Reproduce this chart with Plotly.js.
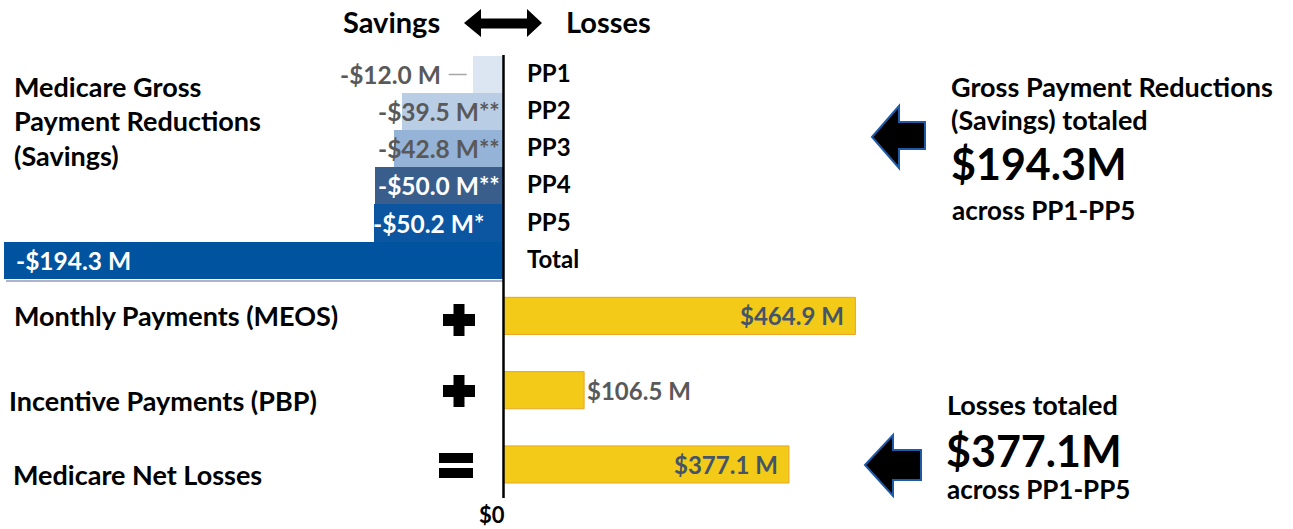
<!DOCTYPE html>
<html>
<head>
<meta charset="utf-8">
<script src="https://cdn.plot.ly/plotly-3.0.1.min.js"></script>
<style>html,body{margin:0;padding:0;background:#fff;}#chart{width:1293px;height:529px;}</style>
</head>
<body>
<div id="chart"></div>
<script>
// ---------- data ----------
const savingsCats   = ['PP1', 'PP2', 'PP3', 'PP4', 'PP5', 'Total'];
const savingsVals   = [-12.0, -39.5, -42.8, -50.0, -50.2, -194.3];
const savingsMarks  = ['', '**', '**', '**', '*', ''];
const lossCats      = ['Monthly Payments (MEOS)', 'Incentive Payments (PBP)', 'Medicare Net Losses'];
const lossVals      = [464.9, 106.5, 377.1];
const lossOps       = ['+', '+', '='];
const savingsTotal  = 194.3;
const lossTotal     = 377.1;

// ---------- styles / geometry ----------
const W = 1293, H = 529;
const FONT = 'Lato, "Open Sans", sans-serif';
const savingsColors = ['#dce6f2', '#b9cde5', '#95b3d7', '#3a5e8c', '#0b55a1', '#00549f'];
const labelColors   = ['#595959', '#595959', '#595959', '#ffffff', '#ffffff', '#ffffff'];
const labelPlace    = ['outside', 'base', 'base', 'base', 'end', 'end'];
const lossLabelPlace = ['inside', 'outside', 'inside'];
const lossLabelColors = ['#44546a', '#595959', '#44546a'];
const zeroPx = 503.5, savScale = 2.57, lossScale = 0.757;
const rowTopPx = 74.5, slotPx = 37.14;

const px = x => x / W;
const py = y => 1 - y / H;

// row positions
const savY = savingsCats.map((c, i) => i);
const lossY = lossCats.map((c, j) => savingsCats.length + 0.5 + 2 * j);

const fmt = v => (v < 0 ? '-$' : '$') + Math.abs(v).toFixed(1) + ' M';

const traces = [
  {
    type: 'bar', orientation: 'h', x: savingsVals, y: savY, width: 1.0,
    marker: {color: savingsColors, line: {width: 0}},
    xaxis: 'x', yaxis: 'y', hoverinfo: 'skip', showlegend: false
  },
  {
    type: 'bar', orientation: 'h', x: lossVals, y: lossY, width: 1.0,
    marker: {color: '#f2ca17', line: {color: '#eaa52a', width: 1}},
    xaxis: 'x2', yaxis: 'y', hoverinfo: 'skip', showlegend: false
  }
];

const ann = [];
const shapes = [];

function txt(text, x, y, size, opts) {
  return Object.assign({
    text: text, x: x, y: y, xref: 'paper', yref: 'paper', showarrow: false,
    xanchor: 'left', yanchor: 'middle',
    font: {family: FONT, size: size, color: '#000', weight: 'bold'}
  }, opts || {});
}

// header
ann.push(txt('Savings', px(341), py(22), 29));
ann.push(txt('Losses', px(564), py(22), 29));

// left titles
ann.push(txt('Medicare Gross', px(12), py(86), 27));
ann.push(txt('Payment Reductions', px(12), py(121), 27));
ann.push(txt('(Savings)', px(12), py(156), 27));

// PP labels
savingsCats.forEach((c, i) => {
  ann.push({text: c, x: 0, y: savY[i], xref: 'x', yref: 'y', xanchor: 'left', yanchor: 'middle',
    xshift: 21, yshift: 2, showarrow: false,
    font: {family: FONT, size: 24, color: '#000', weight: 'bold'}});
});

// savings value labels
savingsVals.forEach((v, i) => {
  const a = {text: fmt(v) + savingsMarks[i], y: savY[i], xref: 'x', yref: 'y', yanchor: 'middle',
    showarrow: false, font: {family: FONT, size: 24.5, color: labelColors[i], weight: 'bold'}};
  if (labelPlace[i] === 'outside') {
    Object.assign(a, {x: v, xanchor: 'right', xshift: -30});
    shapes.push({type: 'line', xref: 'x', yref: 'y', xsizemode: 'pixel', xanchor: v,
      x0: -24, x1: -6, y0: savY[i], y1: savY[i], line: {color: '#a6a6a6', width: 1.5}});
  } else if (labelPlace[i] === 'base') {
    Object.assign(a, {x: 0, xanchor: 'right', xshift: -2});
  } else {
    Object.assign(a, {x: v, xanchor: 'left', xshift: i === savingsVals.length - 1 ? 10 : -3});
  }
  ann.push(a);
});

// loss category labels (left side)
const lossLabelPx = [315, 400, 474];
const lossLabelX = [12, 7, 11];
lossCats.forEach((c, j) => {
  ann.push(txt(c, px(lossLabelX[j]), py(lossLabelPx[j]), 27));
});

// loss value labels
lossVals.forEach((v, j) => {
  const a = {text: fmt(v), x: v, y: lossY[j], xref: 'x2', yref: 'y', yanchor: 'middle', showarrow: false,
    font: {family: FONT, size: 24, color: lossLabelColors[j], weight: 'bold'}};
  if (lossLabelPlace[j] === 'inside') Object.assign(a, {xanchor: 'right', xshift: -9});
  else Object.assign(a, {xanchor: 'left', xshift: 1});
  ann.push(a);
});

// operators (+ / =) drawn as solid glyph shapes
const opCentersPx = [[459, 320], [459, 391], [456, 465]];
lossOps.forEach((op, j) => {
  const [cx, cy] = opCentersPx[j];
  const rect = (x0, y0, x1, y1) => shapes.push({type: 'rect', xref: 'paper', yref: 'paper',
    x0: px(x0), x1: px(x1), y0: py(y0), y1: py(y1), fillcolor: '#000', line: {width: 0}});
  if (op === '+') {
    rect(cx - 16, cy - 6, cx + 16, cy + 6);
    rect(cx - 5.5, cy - 16, cx + 5.5, cy + 16);
  } else {
    rect(cx - 17, cy - 12, cx + 17, cy - 2);
    rect(cx - 17, cy + 3, cx + 17, cy + 13);
  }
});

// shadow under total bar
shapes.push({type: 'rect', xref: 'paper', yref: 'paper', x0: px(6), x1: px(503), y0: py(280), y1: py(282),
  fillcolor: 'rgba(90,80,120,0.45)', line: {width: 0}, layer: 'below'});

// zero axis line
shapes.push({type: 'line', xref: 'x', yref: 'paper', x0: 0, x1: 0, y0: py(498), y1: py(55),
  line: {color: '#000', width: 2.5}, layer: 'above'});
ann.push({text: '$0', x: 0, y: 0, xref: 'x', yref: 'paper', xanchor: 'center', yanchor: 'bottom',
  xshift: -12, yshift: -1, showarrow: false, font: {family: FONT, size: 22, color: '#000', weight: 'bold'}});

// double-headed arrow in header
function pathOf(pts) {
  return 'M' + pts.map(p => px(p[0]).toFixed(5) + ',' + py(p[1]).toFixed(5)).join(' L') + ' Z';
}
shapes.push({type: 'path', xref: 'paper', yref: 'paper', fillcolor: '#000', line: {width: 0},
  path: pathOf([[464, 23], [481, 9], [481, 18.5], [527, 18.5], [527, 9], [542, 23], [527, 37], [527, 28.5], [481, 28.5], [481, 37]])});

// block arrows on the right
shapes.push({type: 'path', xref: 'paper', yref: 'paper', fillcolor: '#000', line: {color: '#1f5aa6', width: 2},
  path: pathOf([[872, 137], [899, 106], [899, 122], [925, 122], [925, 149], [899, 149], [899, 168]])});
shapes.push({type: 'path', xref: 'paper', yref: 'paper', fillcolor: '#000', line: {color: '#1f5aa6', width: 2},
  path: pathOf([[865, 465], [893, 435], [893, 450], [921, 450], [921, 480], [893, 480], [893, 496]])});

// right-hand summary text
ann.push(txt('Gross Payment Reductions', px(949), py(86), 27));
ann.push(txt('(Savings) totaled', px(949), py(119), 27));
ann.push(txt('$' + savingsTotal.toFixed(1) + 'M', px(949), py(163), 43));
ann.push(txt('across PP1-PP5', px(950), py(210), 26));
ann.push(txt('Losses totaled', px(945), py(404), 27));
ann.push(txt('$' + lossTotal.toFixed(1) + 'M', px(944), py(450), 43));
ann.push(txt('across PP1-PP5', px(945), py(489), 26));

const layout = {
  width: W, height: H,
  margin: {l: 0, r: 0, t: 0, b: 0, pad: 0},
  paper_bgcolor: '#fff', plot_bgcolor: '#fff',
  showlegend: false, bargap: 0,
  xaxis: {range: [-zeroPx / savScale, (W - zeroPx) / savScale], visible: false, fixedrange: true},
  xaxis2: {range: [-zeroPx / lossScale, (W - zeroPx) / lossScale], visible: false, overlaying: 'x', fixedrange: true},
  yaxis: {range: [(H - rowTopPx) / slotPx, -rowTopPx / slotPx], visible: false, fixedrange: true},
  annotations: ann,
  shapes: shapes
};

Plotly.newPlot('chart', traces, layout, {displayModeBar: false, staticPlot: true});
</script>
</body>
</html>
